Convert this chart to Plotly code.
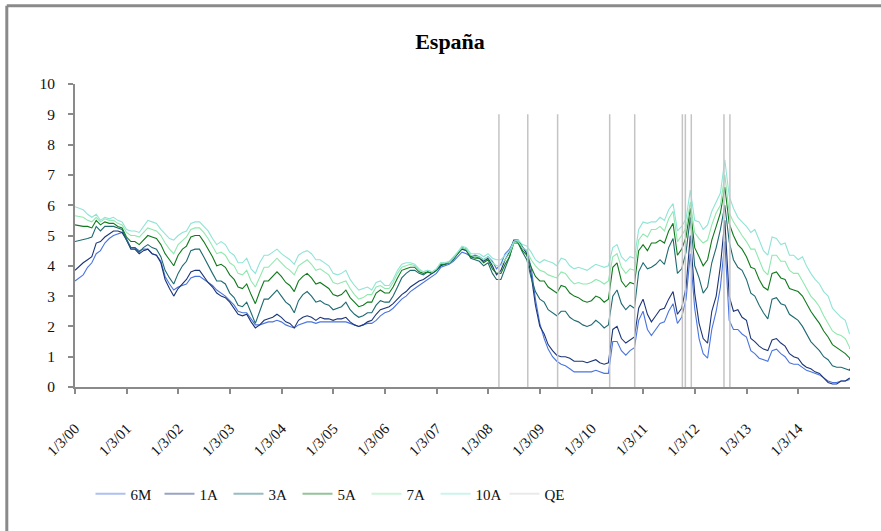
import pandas as pd
import plotly.graph_objects as go

# Monthly observations, Jan 2000 .. Dec 2014, plus the closing value of the sample
dates = list(pd.date_range("2000-01-03", "2015-01-03", freq="MS"))
dates = [pd.Timestamp("2000-01-03")] + dates[1:] + [pd.Timestamp("2014-12-31")]

y6m = [
    3.5, 3.7, 3.95, 4.1, 4.4, 4.5, 4.75, 4.9, 5.0, 5.05, 5.1, 4.9,
    4.6, 4.6, 4.5, 4.55, 4.55, 4.4, 4.35, 4.15, 3.65, 3.4, 3.2, 3.3,
    3.35, 3.4, 3.6, 3.65, 3.65, 3.55, 3.45, 3.35, 3.2, 3.1, 3.0, 2.85,
    2.7, 2.5, 2.45, 2.45, 2.25, 2.05, 2.05, 2.1, 2.15, 2.15, 2.2, 2.15,
    2.05, 2.0, 1.95, 2.05, 2.1, 2.15, 2.15, 2.1, 2.15, 2.15, 2.15, 2.15,
    2.15, 2.15, 2.15, 2.1, 2.05, 2.0, 2.05, 2.1, 2.1, 2.2, 2.35, 2.45,
    2.5, 2.6, 2.75, 2.9, 3.0, 3.15, 3.25, 3.35, 3.45, 3.55, 3.65, 3.75,
    3.95, 4.0, 4.05, 4.15, 4.3, 4.45, 4.4, 4.3, 4.35, 4.3, 4.2, 4.3,
    4.15, 3.9, 4.05, 4.4, 4.55, 4.8, 4.8, 4.6, 4.5, 3.95, 2.9, 2.1,
    1.6, 1.25, 1.0, 0.85, 0.75, 0.7, 0.6, 0.5, 0.5, 0.5, 0.5, 0.5,
    0.55, 0.5, 0.45, 0.45, 1.5, 1.5, 1.2, 1.05, 1.2, 1.3, 2.2, 2.5,
    1.9, 1.7, 1.9, 2.1, 2.15, 2.5, 2.75, 2.1, 2.3, 2.9, 4.4, 2.6,
    1.6, 1.1, 0.95, 1.9, 2.5, 3.3, 4.8, 2.2, 1.9, 1.9, 1.75, 1.65,
    1.2, 1.1, 0.95, 0.9, 0.85, 1.2, 1.25, 1.1, 1.0, 0.8, 0.75, 0.75,
    0.65, 0.55, 0.5, 0.45, 0.4, 0.3, 0.2, 0.15, 0.15, 0.2, 0.2, 0.25,
    0.25,
]
y1a = [
    3.85, 4.1, 4.2, 4.3, 4.75, 4.8, 4.95, 5.05, 5.15, 5.15, 5.1, 4.85,
    4.55, 4.55, 4.4, 4.5, 4.55, 4.4, 4.35, 4.1, 3.55, 3.25, 3.0, 3.25,
    3.4, 3.55, 3.8, 3.85, 3.85, 3.65, 3.45, 3.3, 3.1, 3.0, 2.95, 2.8,
    2.6, 2.4, 2.35, 2.4, 2.15, 1.95, 2.05, 2.2, 2.25, 2.3, 2.4, 2.3,
    2.15, 2.1, 1.95, 2.2, 2.3, 2.35, 2.3, 2.2, 2.3, 2.25, 2.25, 2.2,
    2.25, 2.25, 2.3, 2.15, 2.05, 2.0, 2.05, 2.15, 2.2, 2.4, 2.55, 2.6,
    2.65, 2.75, 2.9, 3.05, 3.15, 3.3, 3.4, 3.5, 3.55, 3.65, 3.75, 3.85,
    4.0, 4.05, 4.1, 4.25, 4.4, 4.55, 4.5, 4.3, 4.3, 4.25, 4.15, 4.25,
    4.0, 3.7, 3.85, 4.2, 4.45, 4.85, 4.85, 4.6, 4.4, 3.7, 2.7, 2.0,
    1.75, 1.4, 1.2, 1.05, 1.0, 1.0, 0.95, 0.85, 0.85, 0.85, 0.8, 0.85,
    0.9, 0.8, 0.75, 0.8, 1.9, 2.0, 1.6, 1.45, 1.55, 1.65, 2.6, 2.9,
    2.4, 2.15, 2.35, 2.55, 2.6, 2.9, 3.15, 2.4, 2.6, 3.3, 5.0, 3.1,
    2.1, 1.6, 1.45, 2.5, 3.0, 4.0, 5.5, 3.0, 2.5, 2.55, 2.3, 2.2,
    1.6, 1.5, 1.35, 1.25, 1.2, 1.55, 1.6, 1.45, 1.35, 1.1, 1.0, 0.95,
    0.75, 0.65, 0.6, 0.5, 0.45, 0.3, 0.15, 0.1, 0.1, 0.2, 0.2, 0.3,
    0.3,
]
y3a = [
    4.8, 4.85, 4.9, 4.95, 5.3, 5.15, 5.3, 5.3, 5.3, 5.25, 5.2, 4.85,
    4.6, 4.6, 4.45, 4.6, 4.7, 4.6, 4.55, 4.3, 3.85, 3.6, 3.4, 3.75,
    4.0, 4.15, 4.5, 4.55, 4.55, 4.3, 4.0, 3.75, 3.5, 3.5, 3.4, 3.1,
    2.95, 2.7, 2.65, 2.8, 2.45, 2.1, 2.5, 2.9, 2.9, 3.05, 3.2, 3.0,
    2.8, 2.7, 2.45, 2.85, 3.05, 3.15, 3.0, 2.8, 2.85, 2.75, 2.7, 2.55,
    2.6, 2.65, 2.8, 2.55, 2.4, 2.3, 2.35, 2.45, 2.45, 2.7, 2.85, 2.8,
    2.8, 3.0, 3.3, 3.6, 3.75, 3.85, 3.85, 3.75, 3.7, 3.8, 3.75, 3.85,
    4.05, 4.05, 4.1, 4.2, 4.4, 4.6, 4.5, 4.25, 4.2, 4.15, 4.0, 4.1,
    3.75, 3.55, 3.55, 3.95, 4.3, 4.8, 4.75, 4.45, 4.2, 3.6, 3.15, 2.9,
    2.8, 2.55, 2.45, 2.35, 2.5, 2.5, 2.3, 2.2, 2.15, 2.05, 2.0, 2.05,
    2.2, 2.1, 1.95, 2.05, 3.0, 3.2, 2.75, 2.55, 2.7, 2.6, 3.8, 4.1,
    3.9, 3.95, 4.05, 4.2, 4.05, 4.6, 4.9, 3.75, 3.9, 4.45, 5.6, 4.0,
    3.6, 3.1, 3.3, 4.1, 4.6, 5.2, 6.0, 4.8, 4.2, 3.95, 3.85, 3.55,
    3.1, 3.0, 2.7, 2.45, 2.25, 2.9, 2.95, 2.75, 2.7, 2.4, 2.3, 2.2,
    2.0, 1.75, 1.5, 1.35, 1.2, 1.0, 0.9, 0.7, 0.65, 0.65, 0.6, 0.55,
    0.6,
]
y5a = [
    5.35, 5.3, 5.3, 5.25, 5.5, 5.35, 5.45, 5.4, 5.4, 5.3, 5.25, 4.95,
    4.8, 4.8, 4.7, 4.85, 5.0, 4.95, 4.9, 4.7, 4.4, 4.2, 4.0, 4.35,
    4.55, 4.65, 4.95, 5.0, 5.0, 4.8, 4.55, 4.3, 4.0, 4.05, 3.95, 3.7,
    3.55, 3.3, 3.25, 3.4, 3.05, 2.75, 3.15, 3.5, 3.5, 3.65, 3.8, 3.65,
    3.45, 3.35, 3.15, 3.5, 3.65, 3.75, 3.6, 3.4, 3.45, 3.35, 3.25, 3.05,
    3.0, 3.05, 3.2, 2.95, 2.8, 2.65, 2.7, 2.8, 2.8, 3.1, 3.2, 3.1,
    3.1, 3.3, 3.6, 3.85, 3.9, 3.95, 3.95, 3.8, 3.75, 3.8, 3.75, 3.85,
    4.05, 4.05, 4.1, 4.25, 4.4, 4.6, 4.55, 4.3, 4.25, 4.25, 4.1, 4.2,
    3.9, 3.75, 3.75, 4.05, 4.3, 4.75, 4.75, 4.5, 4.35, 3.95, 3.65, 3.5,
    3.5, 3.3, 3.2, 3.1, 3.35, 3.3, 3.1, 3.0, 2.95, 2.85, 2.8, 2.85,
    3.0, 2.95, 2.8, 2.9, 3.95, 4.1, 3.5, 3.3, 3.45, 3.4, 4.5, 4.7,
    4.5, 4.75, 4.75, 4.85, 4.75, 5.15, 5.4, 4.35, 4.55, 4.95, 5.9, 4.6,
    4.3, 4.0, 4.2, 4.85, 5.3, 5.75, 6.6, 5.4, 5.0, 4.7, 4.55, 4.3,
    3.95, 3.9, 3.55, 3.3, 3.2, 3.75, 3.8, 3.6, 3.55, 3.25, 3.2, 3.15,
    3.0, 2.75, 2.5, 2.3, 2.1, 1.85, 1.65, 1.4, 1.3, 1.2, 1.1, 0.95,
    0.9,
]
y7a = [
    5.65, 5.6, 5.5, 5.45, 5.6, 5.45, 5.55, 5.5, 5.5, 5.4, 5.35, 5.1,
    5.0, 5.0, 4.95, 5.1, 5.25, 5.2, 5.15, 5.0, 4.75, 4.55, 4.4, 4.7,
    4.85, 4.95, 5.2, 5.25, 5.25, 5.1, 4.9, 4.65, 4.4, 4.45, 4.35, 4.1,
    4.0, 3.75, 3.7, 3.85, 3.5, 3.3, 3.65, 3.95, 3.95, 4.1, 4.25, 4.1,
    3.95, 3.85, 3.7, 4.0, 4.1, 4.2, 4.05, 3.85, 3.9, 3.8, 3.7, 3.45,
    3.4, 3.45, 3.5, 3.25, 3.05, 2.9, 2.95, 3.05, 3.05, 3.3, 3.35, 3.25,
    3.25, 3.45, 3.75, 3.95, 4.0, 4.05, 4.0, 3.85, 3.8, 3.85, 3.8, 3.9,
    4.1, 4.1, 4.1, 4.25, 4.45, 4.6, 4.55, 4.35, 4.3, 4.3, 4.2, 4.3,
    4.1, 4.0, 4.0, 4.2, 4.4, 4.75, 4.8, 4.6, 4.5, 4.2, 4.0, 3.85,
    3.8, 3.7, 3.65, 3.6, 3.8, 3.75, 3.55, 3.4, 3.45, 3.4, 3.4, 3.45,
    3.55, 3.5, 3.4, 3.5, 4.3, 4.4, 3.95, 3.75, 3.9, 3.85, 4.85, 5.05,
    4.95, 5.2, 5.2, 5.3, 5.15, 5.55, 5.8, 4.8, 5.0, 5.25, 6.1, 5.1,
    4.9, 4.75, 4.85, 5.35, 5.75, 6.0, 7.0, 5.75, 5.45, 5.2, 5.0, 4.8,
    4.55, 4.55, 4.2, 3.85, 3.7, 4.35, 4.35, 4.15, 4.15, 3.85, 3.75, 3.75,
    3.5, 3.25, 3.0, 2.85, 2.65, 2.35, 2.1, 1.85, 1.75, 1.7, 1.6, 1.3,
    1.25,
]
y10a = [
    5.95, 5.85, 5.7, 5.6, 5.7, 5.5, 5.6, 5.55, 5.6, 5.5, 5.45, 5.2,
    5.15, 5.15, 5.1, 5.3, 5.5, 5.45, 5.4, 5.2, 5.05, 4.9, 4.85, 5.0,
    5.1, 5.15, 5.4, 5.45, 5.45, 5.3, 5.15, 4.9, 4.7, 4.8, 4.7, 4.45,
    4.35, 4.1, 4.1, 4.25, 3.9, 3.75, 4.1, 4.35, 4.35, 4.45, 4.55, 4.4,
    4.3, 4.2, 4.05, 4.35, 4.45, 4.5, 4.4, 4.2, 4.2, 4.1, 4.0, 3.75,
    3.7, 3.75, 3.85, 3.55, 3.35, 3.2, 3.25, 3.3, 3.2, 3.45, 3.5, 3.35,
    3.35, 3.55, 3.85, 4.05, 4.1, 4.1, 4.05, 3.9, 3.8, 3.85, 3.8, 3.9,
    4.1, 4.1, 4.15, 4.3, 4.45, 4.65, 4.6, 4.4, 4.4, 4.4, 4.3, 4.4,
    4.25, 4.2, 4.2, 4.35, 4.5, 4.8, 4.85, 4.7, 4.65, 4.45, 4.2, 4.1,
    4.2, 4.15, 4.1, 4.0, 4.25, 4.2, 4.0, 3.9, 3.95, 3.9, 3.85, 3.95,
    4.05, 4.0, 3.95, 4.0, 4.6, 4.7, 4.3, 4.15, 4.3, 4.25, 5.2, 5.45,
    5.4, 5.45, 5.45, 5.6, 5.5, 5.85, 6.05, 5.15, 5.3, 5.55, 6.5, 5.5,
    5.45, 5.2, 5.35, 5.8, 6.1, 6.4, 7.5, 6.3, 5.9, 5.6, 5.45, 5.3,
    5.1, 5.2, 4.85, 4.5, 4.35, 4.95, 4.9, 4.7, 4.75, 4.35, 4.35, 4.2,
    4.3, 4.0, 3.75, 3.55, 3.4, 3.15, 3.0, 2.6, 2.45, 2.3, 2.2, 1.8,
    1.75,
]

# Policy announcements marked with vertical lines
qe_dates = [
    "2008-03-18", "2008-10-08", "2009-05-07", "2010-05-10", "2010-11-03",
    "2011-10-06", "2011-10-27", "2011-12-08", "2012-07-26", "2012-09-06",
]
qe_top = 9

tick_years = list(range(2000, 2015))
tick_dates = [f"{y}-01-03" for y in tick_years]
tick_text = [f"1/3/{y % 100:02d}" for y in tick_years]

series = [
    ("6M", y6m, "#4a74e0"),
    ("1A", y1a, "#1c3578"),
    ("3A", y3a, "#1d6a70"),
    ("5A", y5a, "#0f7a1c"),
    ("7A", y7a, "#8fe8ad"),
    ("10A", y10a, "#90e4d6"),
]
qe_color = "#c4c4c4"

FONT = "Liberation Serif, Times New Roman, serif"

fig = go.Figure()
for name, vals, color in series:
    fig.add_trace(go.Scatter(
        x=dates, y=vals, mode="lines", name=name, showlegend=False,
        line=dict(color=color, width=1.1),
    ))

qe_x, qe_y = [], []
for d in qe_dates:
    qe_x += [d, d, None]
    qe_y += [0, qe_top, None]
fig.add_trace(go.Scatter(
    x=qe_x, y=qe_y, mode="lines", name="QE", showlegend=False,
    line=dict(color=qe_color, width=1.5),
))

# Legend entries drawn with softened swatches
for name, _, color in series + [("QE", None, "#d0d0d0")]:
    fig.add_trace(go.Scatter(
        x=[None], y=[None], mode="lines", name=name, opacity=0.45,
        line=dict(color=color, width=2),
    ))

# Outer chart frame (top and left edges)
frame = dict(color="#8a8a8a", width=3)
fig.add_shape(type="line", xref="paper", yref="paper",
              x0=-0.088, x1=1.05, y0=1.258, y1=1.258, line=frame)
fig.add_shape(type="line", xref="paper", yref="paper",
              x0=-0.088, x1=-0.088, y0=1.258, y1=-0.5, line=frame)

fig.update_layout(
    width=881, height=531,
    margin=dict(l=75, r=31, t=84, b=144),
    paper_bgcolor="white", plot_bgcolor="white",
    font=dict(family=FONT, size=13, color="#111"),
    title=dict(text="<b>España</b>", x=450 / 881, xref="container", xanchor="center",
               y=1 - 41 / 531, yref="container", yanchor="middle",
               font=dict(family=FONT, size=22, color="#000")),
    legend=dict(orientation="h", x=0.02, xanchor="left", y=-0.353, yanchor="middle",
                font=dict(family=FONT, size=15, color="#111"),
                entrywidth=24, entrywidthmode="pixels", itemwidth=30),
    showlegend=True,
)
fig.update_xaxes(
    type="date", range=["2000-01-03", "2015-01-03"],
    tickvals=tick_dates, ticktext=tick_text, tickangle=-45,
    showgrid=False, zeroline=False,
    showline=True, linecolor="#8a8a8a", linewidth=2,
    ticks="outside", ticklen=5, tickcolor="#8a8a8a", tickwidth=2,
    ticklabelstandoff=20,
    tickfont=dict(family=FONT, size=15, color="#111"),
)
fig.update_yaxes(
    range=[0, 10], tickvals=list(range(0, 11)),
    showgrid=False, zeroline=False,
    showline=True, linecolor="#8a8a8a", linewidth=2,
    ticks="outside", ticklen=5, tickcolor="#8a8a8a", tickwidth=2,
    ticklabelstandoff=10,
    tickfont=dict(family=FONT, size=15.5, color="#111"),
)

fig.write_html("out.html")
